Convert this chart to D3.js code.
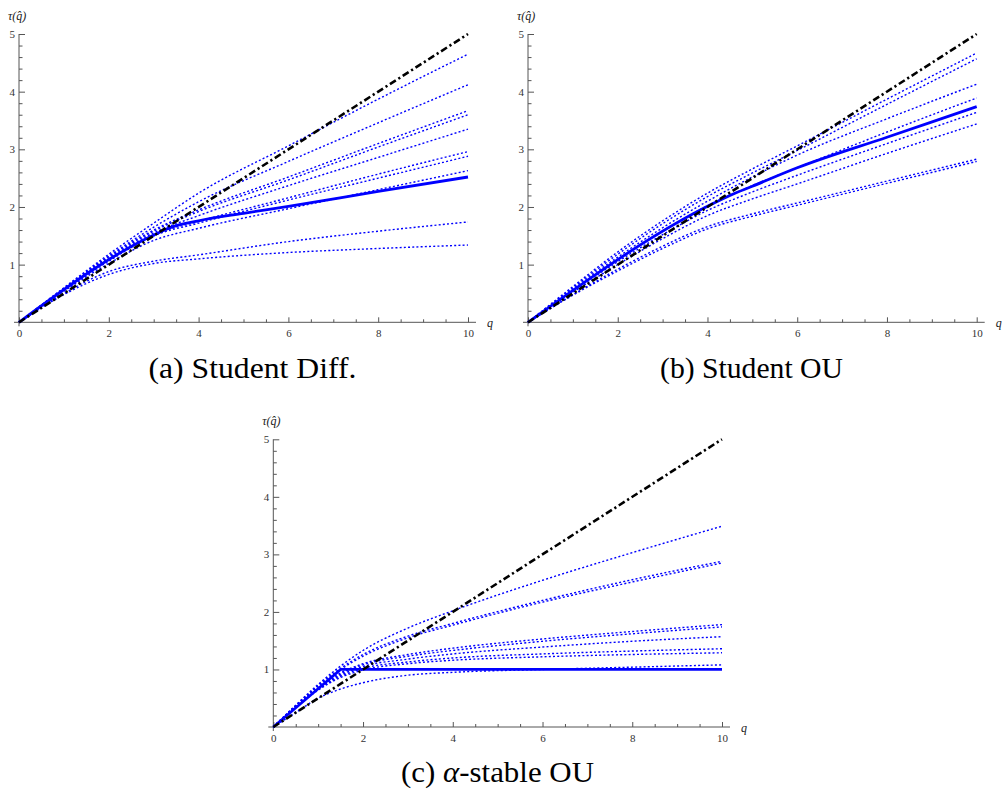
<!DOCTYPE html>
<html>
<head>
<meta charset="utf-8">
<script src="https://cdn.jsdelivr.net/npm/d3@7"></script>
<style>
  body { margin: 0; background: #fff; }
  svg { display: block; }
  .tick line { stroke: #555; }
  .axlabel { font-family: "Liberation Serif", serif; font-style: italic; font-size: 12px; fill: #222; }
</style>
</head>
<body>
<svg id="fig" width="1002" height="795"></svg>
<script>
// ---- tick positions and labels ----
const xMajorTicks = [0, 2, 4, 6, 8, 10];
const xMinorTicks = [0.5, 1, 1.5, 2.5, 3, 3.5, 4.5, 5, 5.5, 6.5, 7, 7.5, 8.5, 9, 9.5];
const yMajorTicks = [1, 2, 3, 4, 5];
const yMinorTicks = [0.2, 0.4, 0.6, 0.8, 1.2, 1.4, 1.6, 1.8, 2.2, 2.4, 2.6, 2.8,
                     3.2, 3.4, 3.6, 3.8, 4.2, 4.4, 4.6, 4.8];

// ---- reference line tau(q) = q/2 ----
const refQ = [0, 10];
const refTau = [0, 5];

// ---- (a) Student diffusion ----
const qA = [0, 1, 2, 3, 4, 6, 8, 10];
const dottedA = [
  [0, 0.60, 1.18, 1.72, 2.24, 3.06, 3.87, 4.65],
  [0, 0.59, 1.15, 1.65, 2.09, 2.79, 3.46, 4.12],
  [0, 0.58, 1.14, 1.60, 1.95, 2.52, 3.10, 3.67],
  [0, 0.57, 1.12, 1.58, 1.92, 2.47, 3.04, 3.60],
  [0, 0.57, 1.10, 1.55, 1.85, 2.37, 2.86, 3.35],
  [0, 0.56, 1.08, 1.52, 1.75, 2.16, 2.57, 2.96],
  [0, 0.55, 1.06, 1.50, 1.72, 2.12, 2.50, 2.88],
  [0, 0.54, 1.02, 1.42, 1.63, 1.97, 2.30, 2.63],
  [0, 0.50, 0.88, 1.06, 1.17, 1.40, 1.58, 1.74],
  [0, 0.48, 0.83, 1.02, 1.10, 1.21, 1.28, 1.34]
];
const solidAQ = [0, 3.1, 3.4, 4, 5, 6, 8, 10];
const solidATau = [0, 1.55, 1.65, 1.76, 1.89, 2.01, 2.27, 2.52];

// ---- (b) Student OU ----
const qB = [0, 1, 2, 3, 4, 5, 6, 8, 10];
const dottedB = [
  [0, 0.62, 1.22, 1.76, 2.24, 2.66, 3.06, 3.87, 4.67],
  [0, 0.60, 1.18, 1.71, 2.18, 2.59, 2.98, 3.78, 4.57],
  [0, 0.58, 1.13, 1.64, 2.10, 2.52, 2.90, 3.53, 4.13],
  [0, 0.56, 1.09, 1.58, 2.02, 2.37, 2.68, 3.30, 3.89],
  [0, 0.54, 1.05, 1.52, 1.94, 2.26, 2.55, 3.10, 3.64],
  [0, 0.52, 1.00, 1.45, 1.85, 2.14, 2.40, 2.93, 3.44],
  [0, 0.48, 0.92, 1.32, 1.66, 1.88, 2.07, 2.45, 2.83],
  [0, 0.47, 0.89, 1.28, 1.62, 1.84, 2.03, 2.41, 2.79]
];
const solidBQ = [0, 4.1, 4.5, 5, 6, 8, 10];
const solidBTau = [0, 2.05, 2.20, 2.36, 2.68, 3.21, 3.74];

// ---- (c) alpha-stable OU ----
const qC = [0, 0.5, 1, 1.5, 2, 3, 4, 6, 8, 10];
const dottedC = [
  [0, 0.38, 0.74, 1.06, 1.33, 1.72, 2.02, 2.55, 3.03, 3.49],
  [0, 0.37, 0.72, 1.02, 1.26, 1.58, 1.80, 2.20, 2.56, 2.88],
  [0, 0.37, 0.71, 1.00, 1.23, 1.55, 1.77, 2.17, 2.52, 2.85],
  [0, 0.36, 0.68, 0.94, 1.10, 1.26, 1.37, 1.53, 1.66, 1.78],
  [0, 0.36, 0.67, 0.92, 1.08, 1.23, 1.33, 1.49, 1.62, 1.74],
  [0, 0.35, 0.66, 0.90, 1.05, 1.18, 1.27, 1.39, 1.49, 1.57],
  [0, 0.35, 0.65, 0.88, 1.02, 1.13, 1.20, 1.27, 1.32, 1.36],
  [0, 0.34, 0.64, 0.86, 0.99, 1.10, 1.16, 1.22, 1.26, 1.29],
  [0, 0.25, 0.50, 0.66, 0.77, 0.90, 0.95, 1.00, 1.04, 1.08]
];
const solidCQ = [0, 1.5, 10];
const solidCTau = [0, 1, 1];

// caption pieces: [text, italic?]
const captionA = [["(a) Student Diff.", false]];
const captionB = [["(b) Student OU", false]];
const captionC = [["(c) ", false], ["\u03B1", true], ["-stable OU", false]];

// ---- drawing ----
const svg = d3.select("#fig");
const serif = "'Liberation Serif', 'Times New Roman', serif";

function drawPanel(p) {
  const x = d3.scaleLinear().domain([0, 10]).range([p.left, p.right]);
  const y = d3.scaleLinear().domain([0, 5]).range([p.bottom, p.top]);
  const g = svg.append("g");

  // axis lines
  g.append("line")
    .attr("x1", x(0) - 5).attr("x2", x(10) + 8)
    .attr("y1", y(0)).attr("y2", y(0))
    .attr("stroke", "#555").attr("stroke-width", 1);
  g.append("line")
    .attr("x1", x(0)).attr("x2", x(0))
    .attr("y1", y(0) + 4).attr("y2", y(5))
    .attr("stroke", "#555").attr("stroke-width", 1);

  // x ticks (pointing up into the plot)
  g.append("g").attr("transform", `translate(0,${y(0)})`)
    .call(d3.axisBottom(x).tickValues(xMinorTicks).tickSize(-3).tickFormat(""))
    .call(a => a.select(".domain").remove());
  g.append("g").attr("transform", `translate(0,${y(0)})`)
    .call(d3.axisBottom(x).tickValues(xMajorTicks).tickSize(-5).tickPadding(7).tickFormat(d3.format("d")))
    .call(a => a.select(".domain").remove());

  // y ticks (pointing right into the plot)
  g.append("g").attr("transform", `translate(${x(0)},0)`)
    .call(d3.axisLeft(y).tickValues(yMinorTicks).tickSize(-3.5).tickFormat(""))
    .call(a => a.select(".domain").remove());
  g.append("g").attr("transform", `translate(${x(0)},0)`)
    .call(d3.axisLeft(y).tickValues(yMajorTicks).tickSize(-6).tickPadding(4).tickFormat(d3.format("d")))
    .call(a => a.select(".domain").remove());

  // tick labels in a serif face
  g.selectAll(".tick text")
    .style("font-family", serif)
    .style("font-size", "11px")
    .attr("fill", "#333");

  const line = d3.line().x(d => x(d[0])).y(d => y(d[1])).curve(d3.curveMonotoneX);
  const straight = d3.line().x(d => x(d[0])).y(d => y(d[1]));

  // dotted estimated curves
  p.dotted.forEach(vals => {
    g.append("path")
      .datum(p.q.map((q, i) => [q, vals[i]]))
      .attr("d", line)
      .attr("fill", "none")
      .attr("stroke", "#0000ff")
      .attr("stroke-width", 1.4)
      .attr("stroke-dasharray", "2 2.2");
  });

  // theoretical curve
  g.append("path")
    .datum(p.solidQ.map((q, i) => [q, p.solidTau[i]]))
    .attr("d", p.solidQ.length > 3 ? line : straight)
    .attr("fill", "none")
    .attr("stroke", "#0000ff")
    .attr("stroke-width", 2.8)
    .attr("stroke-linejoin", "round");

  // reference line q/2
  g.append("path")
    .datum(refQ.map((q, i) => [q, refTau[i]]))
    .attr("d", straight)
    .attr("fill", "none")
    .attr("stroke", "#000")
    .attr("stroke-width", 2.6)
    .attr("stroke-dasharray", "7 3 2.2 3");

  // axis labels
  g.append("text").attr("class", "axlabel")
    .attr("x", x(0) - 11).attr("y", y(5) - 14.5)
    .text("\u03C4(q\u0302)");
  g.append("text").attr("class", "axlabel")
    .attr("x", x(10) + 19).attr("y", y(0) + 4.5)
    .text("q");

  // caption
  const cap = g.append("text")
    .style("font-family", serif)
    .style("font-size", "29px")
    .attr("fill", "#000")
    .attr("x", p.capX).attr("y", p.capY)
    .attr("text-anchor", "middle")
    .attr("textLength", p.capW)
    .attr("lengthAdjust", "spacingAndGlyphs");
  p.caption.forEach(([t, it]) => {
    cap.append("tspan").style("font-style", it ? "italic" : "normal").text(t);
  });
}

drawPanel({ left: 19, right: 468, bottom: 322.3, top: 34,
  q: qA, dotted: dottedA, solidQ: solidAQ, solidTau: solidATau,
  caption: captionA, capX: 252.5, capY: 378, capW: 208 });
drawPanel({ left: 528, right: 976.7, bottom: 322.3, top: 34,
  q: qB, dotted: dottedB, solidQ: solidBQ, solidTau: solidBTau,
  caption: captionB, capX: 751.5, capY: 378, capW: 183 });
drawPanel({ left: 273.3, right: 722, bottom: 727, top: 439.3,
  q: qC, dotted: dottedC, solidQ: solidCQ, solidTau: solidCTau,
  caption: captionC, capX: 497.5, capY: 782, capW: 193 });
</script>
</body>
</html>
